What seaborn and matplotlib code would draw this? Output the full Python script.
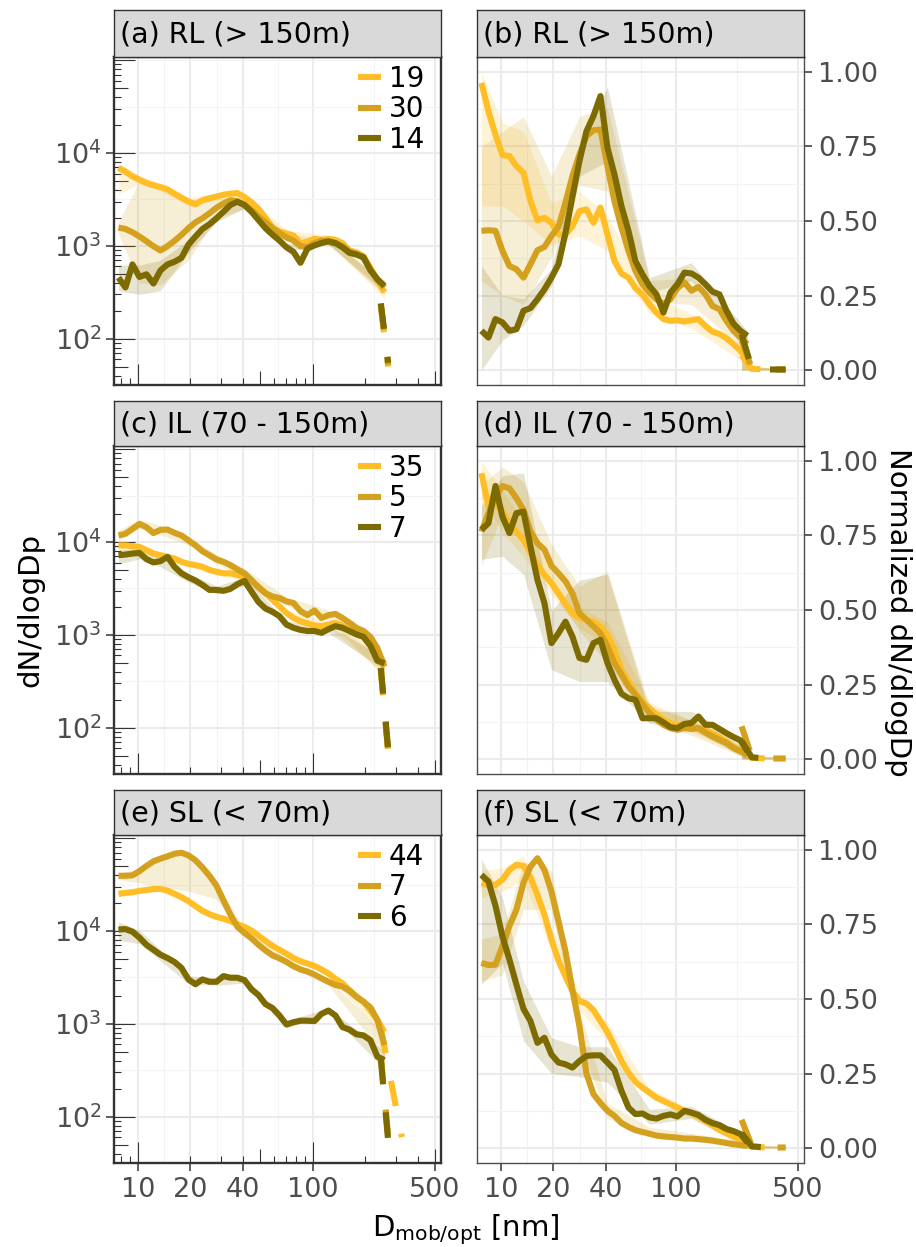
import matplotlib
matplotlib.use("Agg")
import matplotlib.pyplot as plt
import seaborn as sns
from matplotlib.lines import Line2D
from matplotlib.ticker import NullFormatter
from matplotlib.transforms import blended_transform_factory

sns.set_theme(style="white")
plt.rcParams["font.family"] = ["DejaVu Sans"]
plt.rcParams["mathtext.fontset"] = "dejavusans"

# ---------------------------------------------------------------- data
# particle diameter bins [nm]
dp = [7.76, 8.51, 9.33, 10.23, 11.22, 12.30, 13.49, 14.79, 16.22, 17.78,
      19.50, 21.38, 23.44, 25.70, 28.18, 30.90, 33.88, 37.15, 40.74, 44.67,
      48.98, 53.70, 58.88, 64.57, 70.79, 77.62, 85.11, 93.33, 102.3, 112.2,
      123.0, 134.9, 147.9, 162.2, 177.8, 195.0, 213.8, 234.4, 257.0]
# coarser diameters for the spread bands
dp_band = [7.76, 10.23, 13.49, 19.50, 28.18, 40.74, 70.79, 123.0, 257.0]

# residual layer (> 150 m): dN/dlogDp
rl_abs_19 = [6900, 6300, 5600, 5150, 4750, 4500, 4300, 4050, 3650, 3300, 3000, 2800, 3100,
             3250, 3400, 3550, 3650, 3700, 3350, 2950, 2500, 2000, 1580, 1430, 1360, 1290,
             1070, 1110, 1190, 1160, 1190, 1160, 1070, 890, 850, 775, 580, 420, 315]
rl_abs_30 = [1570, 1520, 1400, 1260, 1120, 990, 890, 990, 1130, 1310, 1550, 1790, 1980,
             2240, 2570, 2860, 3100, 3030, 2790, 2430, 2060, 1790, 1550, 1370, 1230, 1140,
             990, 965, 1070, 1140, 1100, 1070, 990, 870, 820, 740, 557, 435, 355]
rl_abs_14 = [454, 356, 630, 462, 493, 392, 543, 630, 673, 742, 1030, 1260, 1520, 1710, 1980,
             2330, 2750, 2980, 2750, 2330, 1900, 1550, 1320, 1140, 965, 860, 656, 933, 1010,
             1070, 1120, 1070, 965, 840, 805, 753, 543, 435, 370]
rl_abs_19_lo = [3600, 4700, 3900, 2700, 3100, 3050, 1250, 1100, 270]
rl_abs_19_hi = [7800, 5700, 4700, 3300, 3700, 3650, 1480, 1290, 370]
rl_abs_30_lo = [1350, 400, 380, 700, 2000, 2500, 1130, 1020, 300]
rl_abs_30_hi = [1800, 5000, 4300, 3100, 3300, 3100, 1340, 1190, 410]
rl_abs_14_lo = [330, 300, 330, 850, 1800, 2550, 880, 1040, 320]
rl_abs_14_hi = [620, 620, 700, 1150, 2200, 2950, 1050, 1200, 420]

# residual layer: normalized
rl_norm_19 = [0.963, 0.868, 0.790, 0.721, 0.718, 0.684, 0.662, 0.567, 0.502, 0.511, 0.494,
              0.455, 0.455, 0.483, 0.533, 0.539, 0.494, 0.545, 0.455, 0.366, 0.324, 0.310,
              0.275, 0.254, 0.221, 0.193, 0.171, 0.165, 0.167, 0.163, 0.167, 0.171, 0.148,
              0.129, 0.121, 0.107, 0.087, 0.065, 0.037]
rl_norm_30 = [0.467, 0.469, 0.467, 0.400, 0.349, 0.338, 0.310, 0.355, 0.402, 0.413, 0.450,
              0.480, 0.561, 0.651, 0.723, 0.785, 0.804, 0.807, 0.684, 0.567, 0.478, 0.400,
              0.333, 0.288, 0.260, 0.238, 0.221, 0.238, 0.275, 0.294, 0.266, 0.279, 0.254,
              0.215, 0.204, 0.165, 0.132, 0.109, 0.087]
rl_norm_14 = [0.132, 0.109, 0.171, 0.160, 0.132, 0.137, 0.199, 0.208, 0.238, 0.271, 0.310,
              0.355, 0.459, 0.581, 0.701, 0.801, 0.852, 0.919, 0.746, 0.656, 0.550, 0.467,
              0.366, 0.321, 0.282, 0.254, 0.193, 0.260, 0.288, 0.327, 0.324, 0.310, 0.288,
              0.263, 0.254, 0.199, 0.156, 0.132, 0.115]
rl_norm_19_lo = [0.55, 0.55, 0.50, 0.42, 0.45, 0.40, 0.19, 0.14, 0.02]
rl_norm_19_hi = [1.00, 0.83, 0.80, 0.56, 0.60, 0.52, 0.25, 0.19, 0.05]
rl_norm_30_lo = [0.30, 0.25, 0.22, 0.38, 0.62, 0.60, 0.23, 0.22, 0.06]
rl_norm_30_hi = [0.75, 0.80, 0.85, 0.65, 0.85, 0.88, 0.30, 0.31, 0.11]
rl_norm_14_lo = [0.00, 0.10, 0.15, 0.28, 0.65, 0.70, 0.26, 0.30, 0.10]
rl_norm_14_hi = [0.35, 0.25, 0.24, 0.34, 0.75, 0.95, 0.31, 0.36, 0.13]

# intermediate layer (70 - 150 m): dN/dlogDp
il_abs_35 = [9210, 9200, 9000, 8850, 8150, 7510, 7210, 6920, 6640, 6120, 5830, 5640, 5420,
             4990, 4790, 4600, 4600, 4420, 4170, 3810, 3310, 2810, 2390, 2030, 1720, 1520,
             1400, 1330, 1260, 1240, 1290, 1340, 1260, 1160, 1070, 972, 826, 646, 485]
il_abs_5 = [11780, 12270, 13870, 15670, 14450, 12480, 13530, 13640, 12570, 11780, 10420,
            9210, 7960, 7210, 6490, 6120, 5640, 5070, 4600, 3900, 3240, 2810, 2590, 2490,
            2290, 2200, 1800, 1630, 1830, 1520, 1630, 1680, 1520, 1350, 1190, 1100, 950,
            718, 454]
il_abs_7 = [7210, 7330, 7510, 7640, 6540, 6030, 6220, 6920, 5420, 4600, 4170, 3840, 3450,
            3050, 3050, 2980, 3130, 3510, 3810, 2930, 2260, 1920, 1770, 1590, 1290, 1190,
            1130, 1100, 1100, 1050, 1150, 1240, 1190, 1100, 1010, 950, 760, 526, 493]
il_abs_35_lo = [8000, 8000, 6700, 5400, 4400, 3900, 1600, 1200, 380]
il_abs_35_hi = [10500, 9700, 7800, 6300, 5200, 4500, 1850, 1380, 560]
il_abs_5_lo = [10500, 14000, 12000, 9300, 5800, 4100, 2050, 1450, 350]
il_abs_5_hi = [13500, 17500, 15000, 11500, 7300, 5200, 2550, 1850, 560]
il_abs_7_lo = [5800, 6600, 5400, 3700, 2750, 3400, 1180, 1050, 420]
il_abs_7_hi = [8200, 8500, 7000, 4600, 3350, 4200, 1400, 1250, 570]

# intermediate layer: normalized
il_norm_35 = [0.959, 0.847, 0.858, 0.830, 0.791, 0.763, 0.735, 0.693, 0.651, 0.618, 0.590,
              0.556, 0.521, 0.489, 0.473, 0.467, 0.461, 0.445, 0.417, 0.366, 0.299, 0.260,
              0.221, 0.193, 0.171, 0.149, 0.132, 0.121, 0.115, 0.114, 0.109, 0.104, 0.098,
              0.087, 0.074, 0.059, 0.042, 0.031, 0.018]
il_norm_5 = [0.763, 0.825, 0.880, 0.916, 0.908, 0.875, 0.836, 0.763, 0.724, 0.702, 0.648,
             0.623, 0.596, 0.556, 0.489, 0.467, 0.445, 0.422, 0.378, 0.322, 0.283, 0.244,
             0.216, 0.185, 0.154, 0.132, 0.115, 0.104, 0.098, 0.104, 0.101, 0.104, 0.089,
             0.076, 0.065, 0.054, 0.037, 0.026, 0.015]
il_norm_7 = [0.769, 0.791, 0.916, 0.813, 0.758, 0.825, 0.830, 0.713, 0.601, 0.523, 0.389,
             0.422, 0.461, 0.411, 0.339, 0.333, 0.389, 0.400, 0.322, 0.266, 0.219, 0.204,
             0.199, 0.137, 0.137, 0.137, 0.123, 0.107, 0.104, 0.118, 0.121, 0.143, 0.115,
             0.115, 0.101, 0.087, 0.074, 0.063, 0.026]
il_norm_35_lo = [0.88, 0.76, 0.68, 0.55, 0.44, 0.38, 0.15, 0.09, 0.01]
il_norm_35_hi = [1.00, 0.90, 0.80, 0.63, 0.51, 0.46, 0.19, 0.13, 0.03]
il_norm_5_lo = [0.65, 0.82, 0.75, 0.57, 0.43, 0.32, 0.13, 0.08, 0.00]
il_norm_5_hi = [0.92, 0.98, 0.93, 0.72, 0.58, 0.63, 0.18, 0.13, 0.03]
il_norm_7_lo = [0.67, 0.68, 0.62, 0.30, 0.26, 0.26, 0.12, 0.10, 0.00]
il_norm_7_hi = [0.85, 0.95, 0.96, 0.50, 0.60, 0.62, 0.16, 0.16, 0.05]

# surface layer (< 70 m): dN/dlogDp
sl_abs_44 = [25200, 25800, 26200, 27100, 27700, 28400, 28400, 27300, 25200, 23200, 21000,
             18600, 16500, 15200, 14200, 13600, 12800, 11800, 11100, 10100, 8920, 7830,
             6930, 6280, 5690, 5120, 4720, 4460, 4210, 3850, 3490, 3060, 2730, 2320, 1970,
             1740, 1390, 1100, 815]
sl_abs_7 = [39400, 39400, 39800, 44200, 50300, 56400, 60300, 63800, 68100, 69800, 65400,
            57900, 48400, 39400, 30900, 21400, 15000, 11100, 9520, 8360, 7100, 6180, 5470,
            5080, 4650, 4180, 3850, 3660, 3400, 3090, 2840, 2620, 2520, 2260, 1950, 1730,
            1500, 1100, 589]
sl_abs_6 = [10400, 10500, 9840, 8500, 7100, 6280, 5560, 5120, 4640, 4010, 3010, 2670, 3010,
            2840, 2840, 3270, 3140, 3140, 2960, 2360, 2040, 1630, 1480, 1230, 984, 1040, 1080,
            1080, 1070, 1280, 1390, 1230, 923, 864, 771, 751, 665, 442, 407]
sl_abs_44_lo = [23000, 25500, 26800, 19800, 13400, 10500, 5400, 3300, 700]
sl_abs_44_hi = [27000, 28700, 30000, 22200, 15000, 11700, 6000, 3700, 950]
sl_abs_7_lo = [36000, 33000, 30000, 27000, 22000, 8800, 4300, 2600, 450]
sl_abs_7_hi = [42000, 47000, 64000, 72000, 34000, 10300, 5000, 3050, 760]
sl_abs_6_lo = [8000, 7300, 4800, 2700, 2600, 2750, 900, 1300, 330]
sl_abs_6_hi = [12500, 10200, 6300, 3300, 3100, 3200, 1080, 1480, 500]

# surface layer: normalized
sl_norm_44 = [0.889, 0.883, 0.883, 0.900, 0.933, 0.950, 0.946, 0.909, 0.849, 0.783, 0.699,
              0.629, 0.576, 0.526, 0.493, 0.485, 0.463, 0.426, 0.389, 0.342, 0.292, 0.253,
              0.222, 0.203, 0.186, 0.169, 0.158, 0.147, 0.136, 0.125, 0.117, 0.106, 0.091,
              0.077, 0.061, 0.050, 0.039, 0.028, 0.017]
sl_norm_7 = [0.621, 0.614, 0.615, 0.677, 0.745, 0.800, 0.890, 0.944, 0.972, 0.933, 0.860,
             0.760, 0.660, 0.530, 0.409, 0.250, 0.181, 0.151, 0.125, 0.108, 0.084, 0.071,
             0.060, 0.054, 0.048, 0.042, 0.039, 0.037, 0.035, 0.032, 0.032, 0.030, 0.028,
             0.025, 0.021, 0.017, 0.013, 0.010, 0.008]
sl_norm_6 = [0.916, 0.894, 0.813, 0.710, 0.632, 0.548, 0.467, 0.426, 0.353, 0.370, 0.314,
             0.287, 0.281, 0.270, 0.292, 0.309, 0.311, 0.311, 0.287, 0.262, 0.192, 0.136,
             0.114, 0.116, 0.103, 0.099, 0.108, 0.113, 0.106, 0.125, 0.119, 0.111, 0.095,
             0.084, 0.077, 0.064, 0.057, 0.047, 0.019]
sl_norm_44_lo = [0.84, 0.86, 0.90, 0.66, 0.46, 0.36, 0.17, 0.10, 0.01]
sl_norm_44_hi = [0.93, 0.94, 0.98, 0.74, 0.52, 0.42, 0.20, 0.13, 0.03]
sl_norm_7_lo = [0.56, 0.58, 0.80, 0.80, 0.36, 0.10, 0.04, 0.025, 0.00]
sl_norm_7_hi = [0.70, 0.72, 0.96, 0.93, 0.46, 0.15, 0.07, 0.05, 0.02]
sl_norm_6_lo = [0.55, 0.62, 0.36, 0.25, 0.24, 0.22, 0.08, 0.10, 0.00]
sl_norm_6_hi = [0.97, 0.84, 0.56, 0.37, 0.34, 0.34, 0.13, 0.14, 0.04]

# large-particle tails (dashed)
tail_dp_abs = [245, 270]
rl_tail_19, rl_tail_30, rl_tail_14 = [220, 50], [235, 52], [240, 55]
il_tail_35, il_tail_5, il_tail_7 = [420, 55], [430, 55], [440, 58]
sl_tail_dp_44 = [245, 323]
sl_tail_44 = [900, 60]
sl_tail_7, sl_tail_6 = [450, 60], [420, 55]

tail_dp_norm = [238, 272, 330, 425]
rl_ntail_19, rl_ntail_30, rl_ntail_14 = [0.05, 0.004, 0.002, 0.002], [0.10, 0.006, 0.002, 0.002], [0.12, 0.006, 0.002, 0.002]
il_ntail_35, il_ntail_5, il_ntail_7 = [0.03, 0.004, 0.002, 0.002], [0.11, 0.008, 0.002, 0.002], [0.06, 0.006, 0.002, 0.002]
sl_ntail_44, sl_ntail_7, sl_ntail_6 = [0.03, 0.004, 0.002, 0.002], [0.095, 0.008, 0.002, 0.002], [0.05, 0.006, 0.002, 0.002]
ntail_band_hi = [0.10, 0.012, 0.008, 0.006]

layer_titles = ["RL (> 150m)", "IL (70 - 150m)", "SL (< 70m)"]
legend_labels = [["19", "30", "14"], ["35", "5", "7"], ["44", "7", "6"]]

x_breaks = [10, 20, 40, 100, 500]
x_minor = [14.14, 28.28, 63.25, 223.6]

# ---------------------------------------------------------------- style
COLORS = ["#FFBE26", "#D4A11E", "#7D6A00"]
LW = 4.4
XLIM = (7.32, 541)
YLIM_ABS = (10 ** 1.54, 10 ** 5.035)
YLIM_NORM = (-0.05, 1.05)
GREY_TXT = "#4D4D4D"

W, H = 916, 1247
fig = plt.figure(figsize=(W / 100, H / 100), dpi=100)
fig.patch.set_facecolor("white")

col_x = [114, 477]
panel_w = 327
rows = [(57, 385), (446, 774), (835, 1163)]
strip_top = [10, 401, 790]


def fig_box(x0, y0, x1, y1):
    return [x0 / W, 1 - y1 / H, (x1 - x0) / W, (y1 - y0) / H]


abs_sets = [
    [(rl_abs_19, rl_abs_19_lo, rl_abs_19_hi, tail_dp_abs, rl_tail_19),
     (rl_abs_30, rl_abs_30_lo, rl_abs_30_hi, tail_dp_abs, rl_tail_30),
     (rl_abs_14, rl_abs_14_lo, rl_abs_14_hi, tail_dp_abs, rl_tail_14)],
    [(il_abs_35, il_abs_35_lo, il_abs_35_hi, tail_dp_abs, il_tail_35),
     (il_abs_5, il_abs_5_lo, il_abs_5_hi, tail_dp_abs, il_tail_5),
     (il_abs_7, il_abs_7_lo, il_abs_7_hi, tail_dp_abs, il_tail_7)],
    [(sl_abs_44, sl_abs_44_lo, sl_abs_44_hi, sl_tail_dp_44, sl_tail_44),
     (sl_abs_7, sl_abs_7_lo, sl_abs_7_hi, tail_dp_abs, sl_tail_7),
     (sl_abs_6, sl_abs_6_lo, sl_abs_6_hi, tail_dp_abs, sl_tail_6)],
]
norm_sets = [
    [(rl_norm_19, rl_norm_19_lo, rl_norm_19_hi, tail_dp_norm, rl_ntail_19),
     (rl_norm_30, rl_norm_30_lo, rl_norm_30_hi, tail_dp_norm, rl_ntail_30),
     (rl_norm_14, rl_norm_14_lo, rl_norm_14_hi, tail_dp_norm, rl_ntail_14)],
    [(il_norm_35, il_norm_35_lo, il_norm_35_hi, tail_dp_norm, il_ntail_35),
     (il_norm_5, il_norm_5_lo, il_norm_5_hi, tail_dp_norm, il_ntail_5),
     (il_norm_7, il_norm_7_lo, il_norm_7_hi, tail_dp_norm, il_ntail_7)],
    [(sl_norm_44, sl_norm_44_lo, sl_norm_44_hi, tail_dp_norm, sl_ntail_44),
     (sl_norm_7, sl_norm_7_lo, sl_norm_7_hi, tail_dp_norm, sl_ntail_7),
     (sl_norm_6, sl_norm_6_lo, sl_norm_6_hi, tail_dp_norm, sl_ntail_6)],
]


def draw_series(ax, sets, norm):
    for (y, lo, hi, tx, ty), c in zip(sets, COLORS):
        ax.fill_between(dp_band, lo, hi, color=c, alpha=0.18, lw=0, zorder=2)
        if norm:
            ax.fill_between(tx, [0, 0, 0, 0], ntail_band_hi, color=c, alpha=0.2, lw=0, zorder=2)
    for (y, lo, hi, tx, ty), c in zip(sets, COLORS):
        sns.lineplot(x=dp, y=y, ax=ax, color=c, linewidth=LW, legend=False,
                     solid_capstyle="butt", solid_joinstyle="round", zorder=3)
        ax.plot(tx, ty, color=c, lw=LW, linestyle=(0, (4.2, 4.6)),
                dash_capstyle="butt", zorder=3)


def add_logticks(ax, h_px, w_px):
    bx = blended_transform_factory(ax.transData, ax.transAxes)
    by = blended_transform_factory(ax.transAxes, ax.transData)
    for dec in (1, 10, 100):
        for m in range(1, 10):
            v = m * dec
            if XLIM[0] < v < XLIM[1]:
                L = 21 if m == 1 else (14 if m == 5 else 7)
                ax.plot([v, v], [0, L / h_px], transform=bx, color="#333333",
                        lw=0.8, solid_capstyle="butt", zorder=1.5)
    for dec in (10, 100, 1000, 10000, 100000):
        for m in range(1, 10):
            v = m * dec
            if YLIM_ABS[0] < v < YLIM_ABS[1]:
                L = 21 if m == 1 else (14 if m == 5 else 7)
                ax.plot([0, L / w_px], [v, v], transform=by, color="#333333",
                        lw=0.8, solid_capstyle="butt", zorder=1.5)


letters = "abcdef"
for r in range(3):
    y0, y1 = rows[r]
    for c in range(2):
        x0 = col_x[c]
        ax = fig.add_axes(fig_box(x0, y0, x0 + panel_w, y1))
        ax.set_facecolor("white")
        ax.set_xscale("log")
        norm = c == 1
        if norm:
            ax.set_ylim(*YLIM_NORM)
        else:
            ax.set_yscale("log")
            ax.set_ylim(*YLIM_ABS)
        ax.set_xlim(*XLIM)

        draw_series(ax, norm_sets[r] if norm else abs_sets[r], norm)
        ax.set_xlim(*XLIM)
        ax.set_xlabel("")
        ax.set_ylabel("")

        # grid
        ax.set_xticks(x_breaks, [str(v) for v in x_breaks])
        ax.set_xticks(x_minor, minor=True)
        ax.xaxis.set_minor_formatter(NullFormatter())
        if norm:
            ax.set_yticks([0, 0.25, 0.5, 0.75, 1.0], ["0.00", "0.25", "0.50", "0.75", "1.00"])
            ax.set_yticks([0.125, 0.375, 0.625, 0.875], minor=True)
        else:
            ax.set_yticks([1e2, 1e3, 1e4], [r"$\mathregular{10^{2}}$", r"$\mathregular{10^{3}}$",
                                            r"$\mathregular{10^{4}}$"])
            ax.set_yticks([10 ** 1.5, 10 ** 2.5, 10 ** 3.5, 10 ** 4.5, 1e5], minor=True)
        ax.yaxis.set_minor_formatter(NullFormatter())
        ax.grid(which="major", color="#EBEBEB", lw=1.5)
        ax.grid(which="minor", color="#F3F3F3", lw=0.8)
        ax.set_axisbelow(True)

        ax.tick_params(which="minor", length=0)
        ax.tick_params(which="major", labelsize=19.5, labelcolor=GREY_TXT, color="#333333",
                       width=1.1, length=6, direction="out")
        if r < 2:
            ax.tick_params(axis="x", which="major", length=0, labelbottom=False)
        else:
            ax.tick_params(axis="x", which="major", bottom=True, pad=4)
        if norm:
            ax.yaxis.tick_right()
            ax.tick_params(axis="y", which="major", left=False, right=True,
                           labelleft=False, labelright=True, pad=4)
            for s in ax.spines.values():
                s.set_color("#4D4D4D")
                s.set_linewidth(1.0)
        else:
            ax.tick_params(axis="y", which="major", left=True, pad=3)
            for s in ax.spines.values():
                s.set_color("#333333")
                s.set_linewidth(1.7)
            add_logticks(ax, y1 - y0, panel_w)
            handles = [Line2D([], [], color=col, lw=LW, solid_capstyle="butt") for col in COLORS]
            leg = ax.legend(handles, legend_labels[r], loc="upper left",
                            bbox_to_anchor=(0.745, 0.975), frameon=False, fontsize=20,
                            handlelength=0.85, handletextpad=0.28, labelspacing=0.08,
                            borderpad=0, borderaxespad=0)
            for t in leg.get_texts():
                t.set_color("black")

        # facet strip
        sax = fig.add_axes(fig_box(x0, strip_top[r], x0 + panel_w, y0))
        sax.set_facecolor("#D9D9D9")
        sax.set_xticks([])
        sax.set_yticks([])
        for s in sax.spines.values():
            s.set_color("#333333")
            s.set_linewidth(1.0)
        sax.text(6 / panel_w, 0.47, f"({letters[2 * r + c]}) {layer_titles[r]}",
                 ha="left", va="center", fontsize=20.5, color="black",
                 transform=sax.transAxes)

fig.text(30 / W, 1 - 610 / H, "dN/dlogDp", rotation=90, ha="center", va="center",
         fontsize=21, color="black")
fig.text(898 / W, 1 - 612 / H, "Normalized dN/dlogDp", rotation=270, ha="center",
         va="center", fontsize=21, color="black")
fig.text(466 / W, 1 - 1236 / H, r"D$_{\mathregular{mob/opt}}$ [nm]", ha="center",
         va="baseline", fontsize=21, color="black")

fig.savefig("out.png", dpi=100, facecolor="white")
